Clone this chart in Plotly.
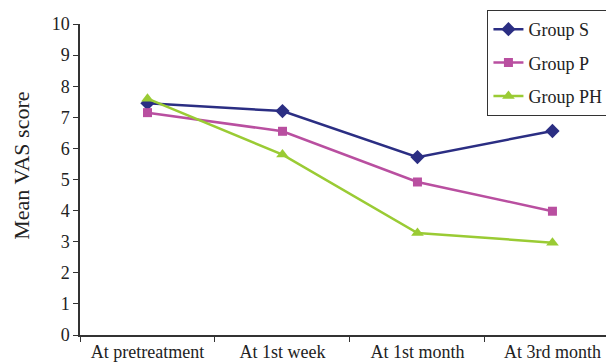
import plotly.graph_objects as go

categories = ["At pretreatment", "At 1st week", "At 1st month", "At 3rd month"]
group_s = [7.45, 7.2, 5.72, 6.56]
group_p = [7.15, 6.55, 4.92, 3.98]
group_ph = [7.6, 5.8, 3.28, 2.97]
y_ticks = list(range(0, 11))

FONT = "Liberation Serif, Times New Roman, serif"

series = [
    ("Group S", group_s, "#2B2E83", "diamond", 11),
    ("Group P", group_p, "#B94FA0", "square", 9),
    ("Group PH", group_ph, "#9ACB34", "triangle-up", 11),
]

fig = go.Figure()
for i, (name, vals, color, sym, size) in enumerate(series):
    fig.add_trace(go.Scatter(
        x=categories, y=vals, name=name, mode="lines+markers",
        line=dict(color=color, width=2.5),
        marker=dict(symbol=sym, size=size, color=color),
        legendgroup=f"g{i}",
    ))

# page body has an 8px margin, so the figure is offset by 8px
fig.update_layout(
    width=606, height=356,
    margin=dict(l=72, r=0, t=16, b=29, autoexpand=False),
    paper_bgcolor="white", plot_bgcolor="white",
    font=dict(family=FONT, size=17, color="#222"),
    showlegend=True,
    legend=dict(
        x=0.763, y=1.045, xanchor="left", yanchor="top",
        bordercolor="#333", borderwidth=1, bgcolor="white",
        font=dict(family=FONT, size=18, color="#222"),
        tracegroupgap=7, traceorder="grouped",
    ),
    xaxis=dict(
        type="category", range=[-0.5, 3.456],
        showline=True, linecolor="#333", linewidth=1.5,
        ticks="outside", tickson="boundaries", ticklen=5, tickcolor="#333",
        showgrid=False, zeroline=False,
        tickfont=dict(family=FONT, size=18, color="#222"),
    ),
    yaxis=dict(
        range=[0, 10], tickvals=y_ticks, ticktext=[str(v) for v in y_ticks],
        showline=True, linecolor="#333", linewidth=1.5,
        ticks="outside", ticklen=5, tickcolor="#333",
        showgrid=False, zeroline=False,
        tickfont=dict(family=FONT, size=18, color="#222"),
    ),
    annotations=[dict(
        text="Mean VAS score", textangle=-90, showarrow=False,
        xref="paper", yref="paper", x=-0.11, y=0.545,
        xanchor="center", yanchor="middle",
        font=dict(family=FONT, size=22, color="#222"),
    )],
)

fig.write_html("out.html")
